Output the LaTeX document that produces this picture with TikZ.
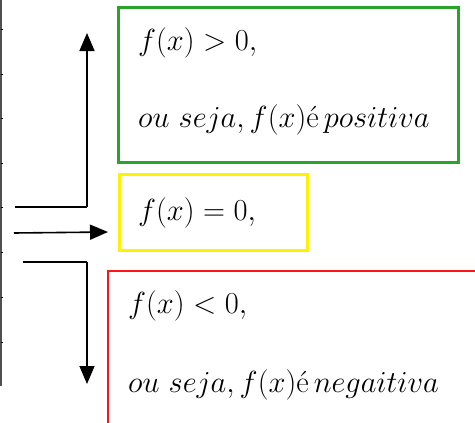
\RequirePackage{fix-cm}
\documentclass[tikz,border=0pt]{standalone}
\usetikzlibrary{arrows.meta}
\definecolor{boxgreen}{RGB}{40,165,40}
\definecolor{boxyellow}{RGB}{255,242,0}
\definecolor{boxred}{RGB}{255,20,20}
\definecolor{edgegray}{RGB}{80,80,80}
\begin{document}
\begin{tikzpicture}[x=1pt,y=-1pt,
  box/.style={draw,anchor=north west,inner sep=0pt},
  txt/.style={anchor=base west,inner sep=0pt,font=\fontsize{30.5}{36}\selectfont},
  arr/.style={line width=1.6pt,-{Triangle[length=18pt,width=15pt]}},
  link/.style={line width=1.6pt}]
\useasboundingbox (0,0) rectangle (475,423);
% left table edge
\draw[edgegray,line width=2pt] (1,0) -- (1,386);
\foreach \yy in {29,74,118,163,207,252,297,342}
  \draw[black,line width=1pt] (1,\yy) -- (3,\yy);
% boxes
\node[box,boxgreen,line width=2.6pt,minimum width=340pt,minimum height=155pt] (g) at (117,6) {};
\node[box,boxyellow,line width=2.6pt,minimum width=188pt,minimum height=76pt] (y) at (118,173) {};
\node[box,boxred,line width=2pt,minimum width=380pt,minimum height=170pt] (r) at (107,270) {};
% texts
\node[txt] (t1) at (138,50) {$f(x)>0,$};
\node[txt] (t2) at (138,128) {$ou\ seja, f(x)$\'e$\,positiva$};
\node[txt] (t3) at (138,220) {$f(x)=0,$};
\node[txt] (t4) at (128,313) {$f(x)<0,$};
\node[txt] (t5) at (128,392) {$ou\ seja, f(x)$\'e$\,negaitiva$};
% connectors
\coordinate (a1) at (15,207);
\coordinate (c1) at (87,207);
\coordinate (e1) at (87,33);
\coordinate (a2) at (14,233);
\coordinate (e2) at (108,232);
\coordinate (a3) at (23,262);
\coordinate (c3) at (87,262);
\coordinate (e3) at (87,384);
\draw[link] (a1) -- (c1);
\draw[arr] (c1) -- (e1);
\draw[arr] (a2) -- (e2);
\draw[link] (a3) -- (c3);
\draw[arr] (c3) -- (e3);
\end{tikzpicture}
\end{document}
